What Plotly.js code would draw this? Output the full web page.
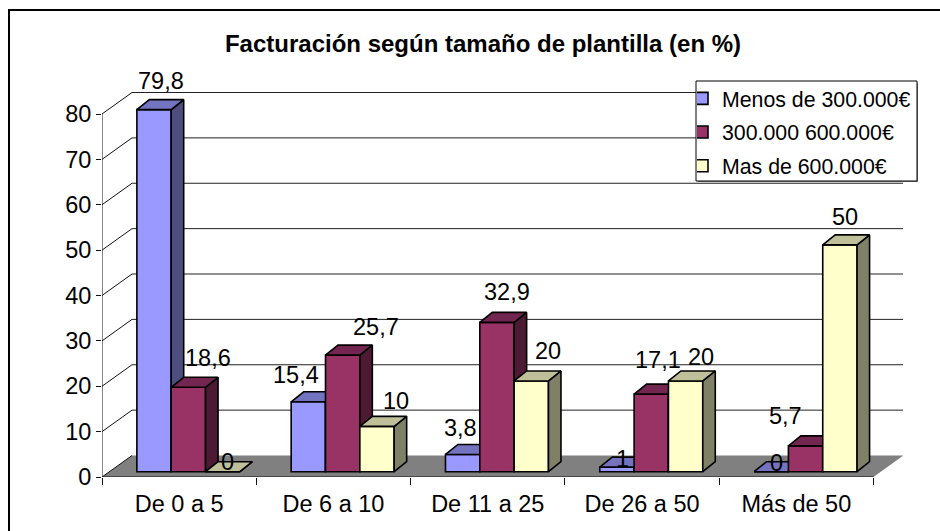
<!DOCTYPE html>
<html><head><meta charset="utf-8">
<script src="https://cdn.plot.ly/plotly-3.0.1.min.js"></script>
<style>html,body{margin:0;padding:0;background:#fff}</style></head>
<body><div id="chart" style="width:940px;height:531px"></div>
<script>
// ---- data ----
const categories = ["De 0 a 5","De 6 a 10","De 11 a 25","De 26 a 50","Más de 50"];
const seriesNames = ["Menos de 300.000€","300.000 600.000€","Mas de 600.000€"];
const menos300 = [79.8,15.4,3.8,1,0];
const de300a600 = [18.6,25.7,32.9,17.1,5.7];
const mas600 = [0,10,20,20,50];
const yTicks = [0,10,20,30,40,50,60,70,80];
const titleText = "Facturación según tamaño de plantilla (en %)";
// ---- styles / geometry ----
const values = [menos300,de300a600,mas600];
const frontCol = ["#9999FF","#993366","#FFFFCC"];
const sideCol  = ["#4D4D80","#4D1A33","#808066"];
const topCol   = ["#7373BF","#732650","#BFBF99"];
const W=940,H=531,L=102,R=903,B=477,T=92;
const catPx=154.3, valPx=4.5375;
const wallDX=30/catPx, wallDY=21.5/valPx;
const barDX=12.5/catPx, barDY=10/valPx;
const barStart=0.226, barW=0.2225, barBase=5.3/valPx;
const xMax=(R-L)/catPx, yMax=(B-T)/valPx;
const FONT="Liberation Sans, Arial, sans-serif";
const labelPos=[
 [[161,81],[296,375],[460,428],[622,459],[776,463]],
 [[208,358],[376,327],[507,292],[658,360],[785,416]],
 [[228,462],[396,401],[548,351],[701,357],[845,217]]
];
const traces=[],shapes=[],annotations=[];
function poly(pts){const xs=[],ys=[];pts.forEach(p=>{xs.push(p[0]);ys.push(p[1])});xs.push(pts[0][0]);ys.push(pts[0][1]);return [xs,ys];}
values.forEach((vals,s)=>{
  const sfx=s===0?"":String(s+1);
  const xa="x"+sfx, ya="y"+sfx;
  const cx=vals.map((v,i)=>i+barStart+barW*(s+0.5));
  traces.push({type:"bar",x:cx,y:vals,base:vals.map(()=>barBase),width:barW,name:seriesNames[s],xaxis:xa,yaxis:ya,
    legendgroup:"g"+s,
    marker:{color:frontCol[s],line:{color:"#000",width:1.6}},hoverinfo:"skip",cliponaxis:false});
  const sx=[],sy=[],tx=[],ty=[];
  vals.forEach((v,i)=>{
    const x0=i+barStart+barW*s, x1=x0+barW, y0=barBase, y1=barBase+v;
    const side=poly([[x1,y0],[x1+barDX,y0+barDY],[x1+barDX,y1+barDY],[x1,y1]]);
    const top=poly([[x0,y1],[x1,y1],[x1+barDX,y1+barDY],[x0+barDX,y1+barDY]]);
    sx.push(...side[0],null);sy.push(...side[1],null);
    tx.push(...top[0],null);ty.push(...top[1],null);
  });
  [[sx,sy,sideCol[s]],[tx,ty,topCol[s]]].forEach(a=>{
    traces.push({type:"scatter",mode:"lines",x:a[0],y:a[1],fill:"toself",fillcolor:a[2],
      line:{color:"#000",width:1.6},showlegend:false,hoverinfo:"skip",xaxis:xa,yaxis:ya,cliponaxis:false});
  });
  vals.forEach((v,i)=>{
    const lx=i+barStart+barW*(s+0.5), ly=barBase+v;
    const p=labelPos[s][i];
    annotations.push({xref:"x3",yref:"y3",x:lx,y:ly,text:String(v).replace(".",","),showarrow:false,
      xanchor:"center",yanchor:"middle",
      xshift:p[0]-(L+lx*catPx), yshift:(B-ly*valPx)-p[1],
      font:{family:FONT,size:23.5,color:"#000"}});
  });
});
// floor
const floor=[[0,0],[5,0],[5+wallDX,wallDY],[wallDX,wallDY]];
shapes.push({type:"path",layer:"below",xref:"x",yref:"y",
  path:"M"+floor.map(p=>p[0]+","+p[1]).join("L")+"Z",fillcolor:"#808080",line:{width:0}});
// wall gridlines
yTicks.forEach(t=>{
  if(t>0) shapes.push({type:"line",layer:"below",xref:"x",yref:"y",x0:wallDX,x1:5+wallDX,y0:t+wallDY,y1:t+wallDY,line:{color:"#222",width:1}});
  shapes.push({type:"line",layer:"below",xref:"x",yref:"y",x0:0,x1:wallDX,y0:t,y1:t+wallDY,line:{color:"#111",width:1}});
});
// axis lines on front plane
shapes.push({type:"line",layer:"below",xref:"x",yref:"y",x0:0,x1:0,y0:0,y1:80,line:{color:"#111",width:1}});
shapes.push({type:"line",layer:"below",xref:"x",yref:"y",x0:0,x1:5,y0:0,y1:0,line:{color:"#111",width:1}});
// legend box + frame
shapes.push({type:"rect",layer:"above",xref:"paper",yref:"paper",x0:(698-L)/(R-L),x1:(918-L)/(R-L),y0:(B-182)/(B-T),y1:(B-83)/(B-T),fillcolor:"#808080",line:{width:0}});
shapes.push({type:"rect",layer:"above",xref:"paper",yref:"paper",x0:(696-L)/(R-L),x1:(917-L)/(R-L),y0:(B-181)/(B-T),y1:(B-81)/(B-T),fillcolor:"#fff",line:{color:"#000",width:1}});
shapes.push({type:"rect",layer:"below",xref:"paper",yref:"paper",x0:(9-L)/(R-L),x1:(1000-L)/(R-L),y0:(B-600)/(B-T),y1:(B-10)/(B-T),fillcolor:"rgba(0,0,0,0)",line:{color:"#000",width:2}});
const xBase={range:[0,xMax],showgrid:false,zeroline:false,showline:false,fixedrange:true};
const yBase={range:[0,yMax],showgrid:false,zeroline:false,showline:false,fixedrange:true};
const layout={
  width:W,height:H,paper_bgcolor:"#fff",plot_bgcolor:"rgba(0,0,0,0)",
  margin:{l:L,r:W-R,t:T,b:H-B,pad:0,autoexpand:false},barmode:"overlay",
  title:{text:"<b>"+titleText+"</b>",font:{family:FONT,size:24,color:"#000"},x:483/W,xanchor:"center",y:1-43.5/H,yanchor:"middle"},
  font:{family:FONT,size:22,color:"#000"},
  showlegend:true,
  legend:{xref:"container",yref:"container",x:697/W,y:1-78/H,xanchor:"left",yanchor:"top",bgcolor:"rgba(0,0,0,0)",borderwidth:0,
    traceorder:"grouped",tracegroupgap:3,indentation:-15,font:{family:FONT,size:21.3,color:"#000"},itemclick:false,itemdoubleclick:false},
  xaxis:Object.assign({},xBase,{tickmode:"array",tickvals:[0,1,2,3,4,5],ticktext:["","","","","",""],ticks:"outside",ticklen:7,tickcolor:"#111",tickwidth:1}),
  yaxis:Object.assign({},yBase,{tickmode:"array",tickvals:yTicks,ticktext:yTicks.map(String),ticks:"outside",ticklen:5,tickcolor:"#111",tickwidth:1,tickfont:{family:FONT,size:23.5,color:"#000"}}),
  xaxis2:Object.assign({},xBase,{overlaying:"x",anchor:"y2",visible:false}),
  yaxis2:Object.assign({},yBase,{overlaying:"y",anchor:"x2",visible:false}),
  xaxis3:Object.assign({},xBase,{overlaying:"x",anchor:"y3",tickmode:"array",tickvals:categories.map((c,i)=>i+0.5),ticktext:categories,ticks:"",tickfont:{family:FONT,size:23.5,color:"#000"},ticklabelstandoff:10}),
  yaxis3:Object.assign({},yBase,{overlaying:"y",anchor:"x3",visible:false}),
  shapes:shapes,annotations:annotations
};
Plotly.newPlot("chart",traces,layout,{displayModeBar:false,staticPlot:true});
</script></body></html>
